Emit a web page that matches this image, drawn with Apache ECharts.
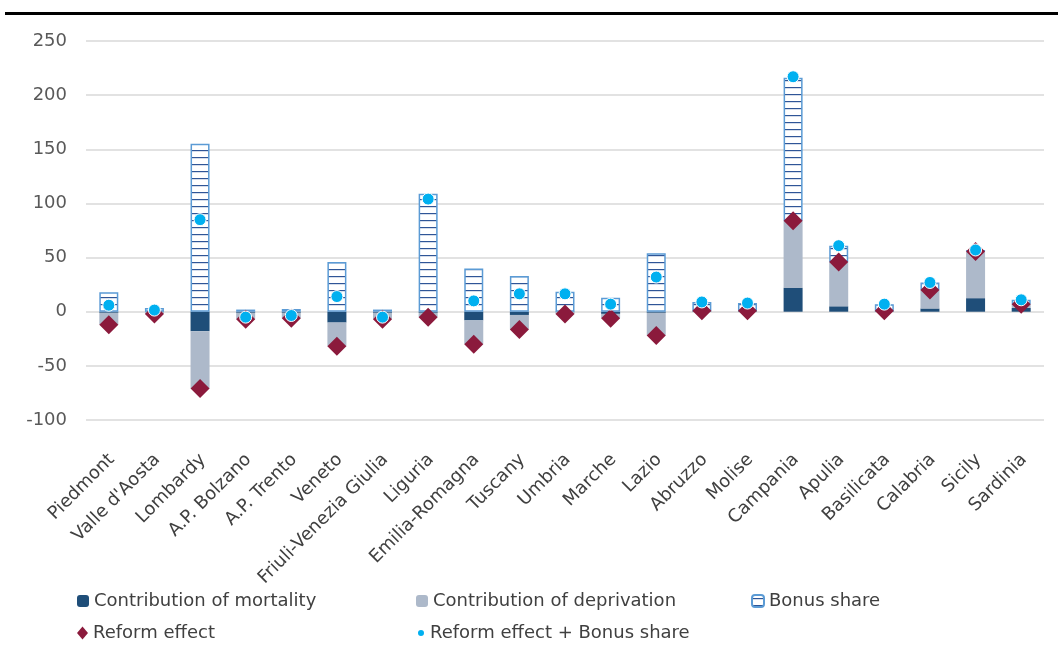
<!DOCTYPE html>
<html lang="en">
<head>
    <meta charset="UTF-8">
    <title>Reform effect by region</title>
    <script src="https://cdn.jsdelivr.net/npm/echarts@6.0.0/dist/echarts.min.js"></script>
    <style>
        html, body { margin: 0; padding: 0; background: #fff; }
        #chart { width: 1061px; height: 650px; }
    </style>
</head>
<body>
    <div id="chart"></div>
    <script type="text/javascript">
        // data
        var regions = ['Piedmont', "Valle d'Aosta", 'Lombardy', 'A.P. Bolzano', 'A.P. Trento', 'Veneto',
            'Friuli-Venezia Giulia', 'Liguria', 'Emilia-Romagna', 'Tuscany', 'Umbria', 'Marche', 'Lazio',
            'Abruzzo', 'Molise', 'Campania', 'Apulia', 'Basilicata', 'Calabria', 'Sicily', 'Sardinia'];
        var mortality = [-1, -0.5, -18, -1, -1, -10, -1, -1, -8, -3, -0.5, -2, -1, 0.5, 0.5, 22, 5, 0.5, 3, 12.5, 3.5];
        var deprivation = [-11, -1.5, -53, -6, -5, -22, -6, -4, -22, -13.5, -1.5, -4, -21, 0.5, 0.5, 62, 41, 0.5, 17, 43, 3.5];
        var bonusShare = [18, 3.5, 155, 2, 2.5, 46, 2, 109, 40, 33, 18.5, 13, 54, 8, 7, 132, 15, 6, 7, 1.5, 4];
        var reformEffect = [-12, -2, -71, -7, -6, -32, -7, -5, -30, -16.5, -2, -6, -22, 1, 1, 84, 46, 1, 20, 55.5, 7];
        var reformPlusBonus = [6, 1.5, 85, -5, -3.5, 14, -5, 104, 10, 16.5, 16.5, 7, 32, 9, 8, 217, 61, 7, 27, 57, 11];
        var yTicks = { min: -100, max: 250, step: 50 };

        var chart = echarts.init(document.getElementById('chart'));
        var FONT = 'DejaVu Sans';

        // horizontal stripe fill for the bonus share bars
        var stripe = document.createElement('canvas');
        stripe.width = 8;
        stripe.height = 7;
        var ctx = stripe.getContext('2d');
        ctx.fillStyle = '#ffffff';
        ctx.fillRect(0, 0, 8, 7);
        ctx.fillStyle = '#2F5597';
        ctx.fillRect(0, 3, 8, 1.2);

        function legendAt(name, left, top, w, h) {
            return {
                data: [name], left: left, top: top, itemWidth: w, itemHeight: h,
                itemGap: 4, padding: 0,
                textStyle: { fontFamily: FONT, fontSize: 18, color: '#404040' }
            };
        }

        var option = {
            animation: false,
            grid: { left: 86, right: 17, top: 41, bottom: 230 },
            graphic: [{
                type: 'rect', shape: { x: 5, y: 12, width: 1053, height: 3 },
                style: { fill: '#000' }
            }],
            legend: [
                legendAt('Contribution of mortality', 77, 592, 12, 12),
                legendAt('Contribution of deprivation', 416, 592, 12, 12),
                legendAt('Bonus share', 751, 592, 12, 12),
                legendAt('Reform effect', 77, 624, 11, 13),
                legendAt('Reform effect + Bonus share', 416, 624, 8, 8)
            ],
            xAxis: {
                type: 'category',
                data: regions,
                axisLine: { show: false },
                axisTick: { show: false },
                axisLabel: {
                    interval: 0, rotate: 45, margin: 27, verticalAlign: 'top', padding: [0, 5, 0, 0],
                    fontFamily: FONT, fontSize: 18, color: '#404040'
                }
            },
            yAxis: {
                type: 'value',
                min: yTicks.min, max: yTicks.max, interval: yTicks.step,
                axisLine: { show: false },
                axisTick: { show: false },
                axisLabel: { margin: 19, fontFamily: FONT, fontSize: 18, color: '#595959' },
                splitLine: { lineStyle: { color: '#D9D9D9', width: 1.5 } }
            },
            series: [
                {
                    name: 'Contribution of mortality', type: 'bar', stack: 'a', barWidth: 19,
                    data: mortality, itemStyle: { color: '#1F4E79' }
                },
                {
                    name: 'Contribution of deprivation', type: 'bar', stack: 'a',
                    data: deprivation, itemStyle: { color: '#ADB9CA' }
                },
                {
                    name: 'Bonus share', type: 'bar', stack: 'a',
                    data: bonusShare,
                    itemStyle: {
                        color: { image: stripe, repeat: 'repeat' },
                        borderColor: '#5B9BD5', borderWidth: 1.5
                    }
                },
                {
                    name: 'Reform effect', type: 'scatter', symbol: 'diamond', symbolSize: 19,
                    data: reformEffect, itemStyle: { color: '#8B1A3C', opacity: 1 }, z: 3
                },
                {
                    name: 'Reform effect + Bonus share', type: 'scatter', symbol: 'circle', symbolSize: 12,
                    data: reformPlusBonus,
                    itemStyle: { color: '#00B0F0', borderColor: '#ffffff', borderWidth: 1, opacity: 1 }, z: 4
                }
            ]
        };
        chart.setOption(option);
    </script>
</body>
</html>
